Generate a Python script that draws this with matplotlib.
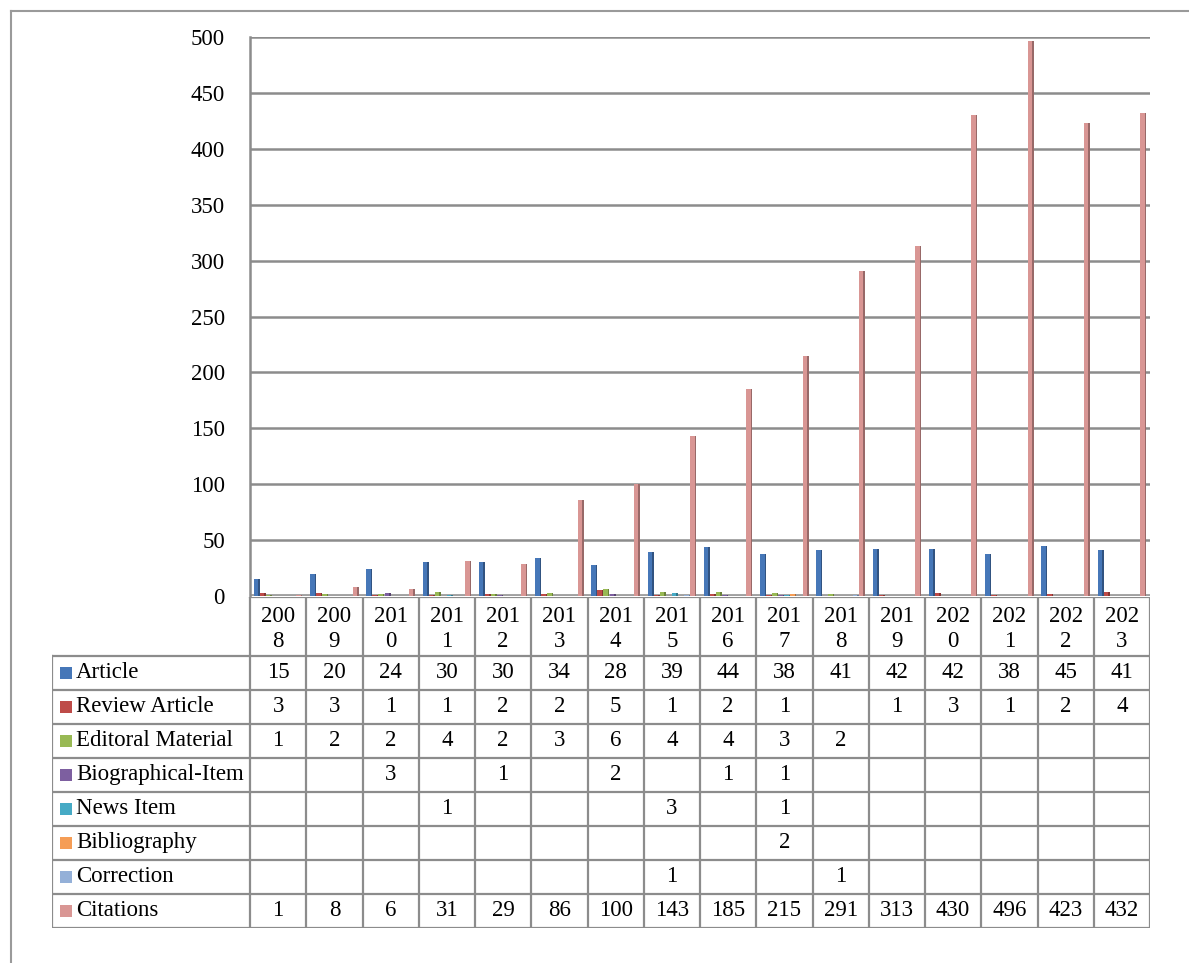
import numpy as np
import matplotlib.pyplot as plt
from matplotlib.lines import Line2D
from matplotlib.colors import to_rgb

plt.rcParams['font.family'] = ['Liberation Serif', 'DejaVu Serif']

years = [str(y) for y in range(2008, 2024)]
nan = np.nan
article = [15, 20, 24, 30, 30, 34, 28, 39, 44, 38, 41, 42, 42, 38, 45, 41]
review = [3, 3, 1, 1, 2, 2, 5, 1, 2, 1, nan, 1, 3, 1, 2, 4]
editorial = [1, 2, 2, 4, 2, 3, 6, 4, 4, 3, 2, nan, nan, nan, nan, nan]
biographical = [nan, nan, 3, nan, 1, nan, 2, nan, 1, 1, nan, nan, nan, nan, nan, nan]
news = [nan, nan, nan, 1, nan, nan, nan, 3, nan, 1, nan, nan, nan, nan, nan, nan]
bibliography = [nan, nan, nan, nan, nan, nan, nan, nan, nan, 2, nan, nan, nan, nan, nan, nan]
correction = [nan, nan, nan, nan, nan, nan, nan, 1, nan, nan, 1, nan, nan, nan, nan, nan]
citations = [1, 8, 6, 31, 29, 86, 100, 143, 185, 215, 291, 313, 430, 496, 423, 432]

series = [
    ("Article", article, "#4677b8"),
    ("Review Article", review, "#be4b48"),
    ("Editoral Material", editorial, "#98b954"),
    ("Biographical-Item", biographical, "#7d5fa0"),
    ("News Item", news, "#46aac5"),
    ("Bibliography", bibliography, "#f59d56"),
    ("Correction", correction, "#94b0d8"),
    ("Citations", citations, "#d99694"),
]

W, H = 1189, 963
fs = 16.5
fig = plt.figure(figsize=(W / 100, H / 100), dpi=100)
grey = "#8c8c8c"

# outer frame (left + top only)
fig.add_artist(Line2D([11 / W, 11 / W], [0, 1 - 11 / H], color="#9a9a9a", lw=1.5))
fig.add_artist(Line2D([11 / W, 1], [1 - 11 / H, 1 - 11 / H], color="#9a9a9a", lw=1.5))

# chart area
x0, x1, y0, y1 = 250, 1150, 596, 37
ax = fig.add_axes([x0 / W, 1 - y0 / H, (x1 - x0) / W, (y0 - y1) / H])
n = len(years)
ax.set_xlim(0, n)
ax.set_ylim(0, 500)
for v in range(50, 501, 50):
    ax.axhline(v, color=grey, lw=1.8, zorder=0)
ax.axhline(0, color="#a0a0a0", lw=3.5, zorder=0)
for s in ["top", "right", "bottom"]:
    ax.spines[s].set_visible(False)
ax.spines["left"].set_color(grey)
ax.spines["left"].set_linewidth(1.8)
ax.set_yticks(range(0, 501, 50))
ax.set_xticks([])
ax.tick_params(axis="y", length=0, pad=18, labelsize=fs)

bw = 0.108
start = 0.5 - 4 * bw
xs = np.arange(n)
for k, (name, vals, col) in enumerate(series):
    v = np.array(vals, dtype=float)
    m = ~np.isnan(v)
    dark = tuple(c * 0.7 for c in to_rgb(col))
    # front face + darker side face
    ax.bar(xs[m] + start + k * bw, v[m], width=bw * 0.74, align="edge",
           color=col, linewidth=0, zorder=3)
    ax.bar(xs[m] + start + k * bw + bw * 0.74, v[m], width=bw * 0.24, align="edge",
           color=dark, linewidth=0, zorder=3)

# data table
t_top, t_bot, lab_left = 597, 928, 52
tax = fig.add_axes([lab_left / W, 1 - t_bot / H, (x1 - lab_left) / W, (t_bot - t_top) / H])
lab_w = (x0 - lab_left) / ((x1 - x0) / n)
hdr = 1.72
nrows = len(series)
tax.set_xlim(-lab_w, n)
tax.set_ylim(hdr + nrows, 0)
tax.axis("off")
tlw = 1.6
for c in range(n + 1):
    tax.plot([c, c], [0, hdr + nrows], color=grey, lw=tlw, solid_capstyle="butt")
tax.plot([-lab_w, -lab_w], [hdr, hdr + nrows], color=grey, lw=tlw)
tax.plot([0, n], [0, 0], color=grey, lw=tlw)
for r in range(nrows + 1):
    tax.plot([-lab_w, n], [hdr + r, hdr + r], color=grey, lw=tlw)

for c, y in enumerate(years):
    tax.text(c + 0.5, hdr / 2 + 0.08, y[:3] + "\n" + y[3:], ha="center", va="center",
             fontsize=fs, linespacing=1.2)

px = (x1 - x0) / n
for r, (name, vals, col) in enumerate(series):
    yc = hdr + r + 0.5
    tax.scatter([-lab_w + 14 / px], [yc], marker="s", s=75, color=col, lw=0)
    tax.text(-lab_w + 24 / px, yc, name, ha="left", va="center", fontsize=fs)
    for c, v in enumerate(vals):
        if not np.isnan(v):
            tax.text(c + 0.5, yc, str(int(v)), ha="center", va="center", fontsize=fs)

fig.savefig("out.png", dpi=100)
